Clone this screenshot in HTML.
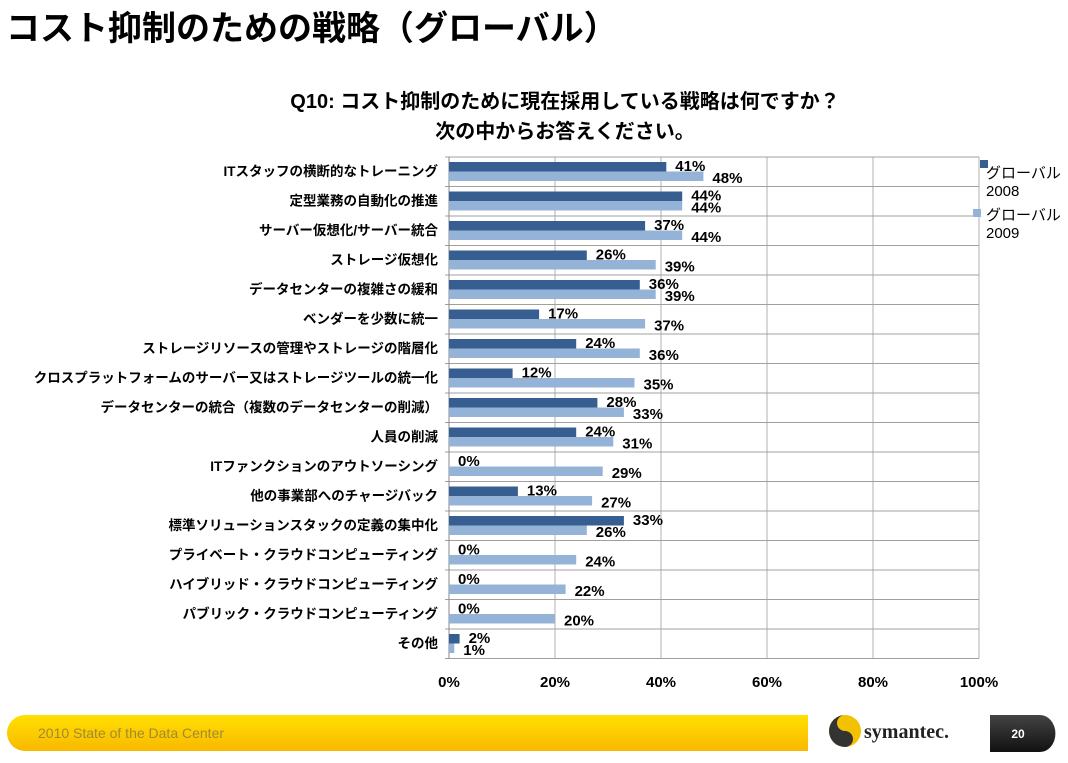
<!DOCTYPE html>
<html><head><meta charset="utf-8"><style>
body{margin:0;background:#fff;}
text{font-family:"Liberation Sans","Noto Sans CJK JP",sans-serif;}
</style></head><body>
<svg width="1068" height="758" xmlns="http://www.w3.org/2000/svg">
<defs>
<linearGradient id="yg" x1="0" y1="0" x2="0" y2="1"><stop offset="0" stop-color="#ffe000"/><stop offset="1" stop-color="#f9b800"/></linearGradient>
<linearGradient id="pg" x1="0" y1="0" x2="0" y2="1"><stop offset="0" stop-color="#444"/><stop offset="1" stop-color="#111"/></linearGradient>
</defs>
<text x="6" y="40" font-size="34" font-weight="bold" fill="#000">コスト抑制のための戦略（グローバル）</text>
<text x="565" y="108" font-size="20" font-weight="bold" text-anchor="middle">Q10: コスト抑制のために現在採用している戦略は何ですか？</text>
<text x="565" y="138" font-size="20" font-weight="bold" text-anchor="middle">次の中からお答えください。</text>
<g id="chart"></g>
<rect x="980" y="160" width="8" height="8" fill="#375e91"/>
<text x="986" y="178" font-size="15" fill="#000"><tspan x="986" y="178">グローバル</tspan><tspan x="986" y="196">2008</tspan></text>
<rect x="973" y="209" width="8" height="8" fill="#95b3d7"/>
<text x="986" y="220" font-size="15" fill="#000"><tspan x="986" y="220">グローバル</tspan><tspan x="986" y="238">2009</tspan></text>
<g font-size="15" font-weight="bold" text-anchor="middle">
<text x="449" y="687">0%</text><text x="555" y="687">20%</text><text x="661" y="687">40%</text><text x="767" y="687">60%</text><text x="873" y="687">80%</text><text x="979" y="687">100%</text>
</g>
<path d="M25 715 H808 V751 H25 A18 18 0 0 1 25 715 Z" fill="url(#yg)"/>
<text x="38" y="738" font-size="14" fill="#a08a30">2010 State of the Data Center</text>
<circle cx="845" cy="731" r="16" fill="#f2c200"/>
<path d="M845 715 A16 16 0 0 0 845 747 A8 8 0 0 0 845 731 A8 8 0 0 1 845 715Z" fill="#333"/>
<text x="864" y="738" font-size="20" font-weight="bold" fill="#222" style="font-family:'Liberation Serif',serif">symantec.</text>
<path d="M990 715 H1040 A15 18 0 0 1 1040 752 H990 Z" fill="url(#pg)"/>
<text x="1018" y="738" font-size="12" font-weight="bold" fill="#fff" text-anchor="middle">20</text>
</svg>
<script>
(function(){
var c=["ITスタッフの横断的なトレーニング","定型業務の自動化の推進","サーバー仮想化/サーバー統合","ストレージ仮想化","データセンターの複雑さの緩和","ベンダーを少数に統一","ストレージリソースの管理やストレージの階層化","クロスプラットフォームのサーバー又はストレージツールの統一化","データセンターの統合（複数のデータセンターの削減）","人員の削減","ITファンクションのアウトソーシング","他の事業部へのチャージバック","標準ソリューションスタックの定義の集中化","プライベート・クラウドコンピューティング","ハイブリッド・クラウドコンピューティング","パブリック・クラウドコンピューティング","その他"];
var a=[41,44,37,26,36,17,24,12,28,24,0,13,33,0,0,0,2];
var b=[48,44,44,39,39,37,36,35,33,31,29,27,26,24,22,20,1];
var x0=449,w=530,T0=157,rh=29.5,s='';
var bot=T0+rh*17;
for(var i=1;i<=5;i++){var x=x0+w*i/5;s+='<line x1="'+x+'" y1="'+T0+'" x2="'+x+'" y2="'+bot+'" stroke="#b0b0b0"/>';}
for(var i=0;i<=17;i++){var y=T0+rh*i;s+='<line x1="'+(x0-4)+'" y1="'+y+'" x2="'+(x0+w)+'" y2="'+y+'" stroke="#a0a0a0"/>';}
s+='<line x1="'+x0+'" y1="'+T0+'" x2="'+x0+'" y2="'+bot+'" stroke="#888"/>';
for(var i=0;i<17;i++){var y=T0+rh*i;
s+='<rect x="'+x0+'" y="'+(y+5)+'" width="'+(a[i]*w/100)+'" height="9.5" fill="#375e91"/>';
s+='<rect x="'+x0+'" y="'+(y+14.5)+'" width="'+(b[i]*w/100)+'" height="9.5" fill="#95b3d7"/>';
s+='<text x="'+(x0+a[i]*w/100+9)+'" y="'+(y+14)+'" font-size="15" font-weight="bold">'+a[i]+'%</text>';
s+='<text x="'+(x0+b[i]*w/100+9)+'" y="'+(y+26)+'" font-size="15" font-weight="bold">'+b[i]+'%</text>';
s+='<text x="438" y="'+(y+19)+'" font-size="13.5" font-weight="bold" text-anchor="end">'+c[i]+'</text>';}
document.getElementById('chart').innerHTML=s;
})();
</script>
</body></html>
